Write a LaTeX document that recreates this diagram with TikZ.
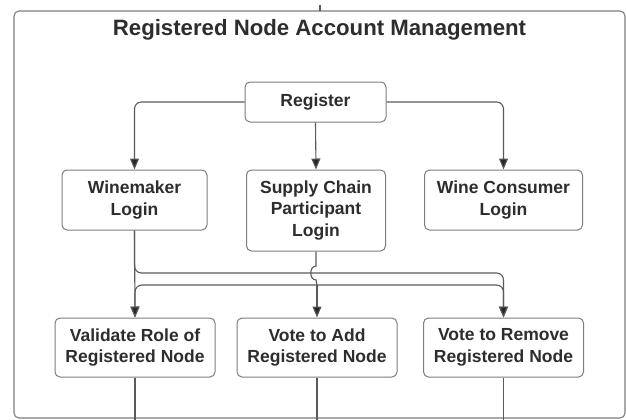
\documentclass[tikz,border=0pt]{standalone}
\usepackage{fontspec}
\setmainfont{Liberation Sans}
\definecolor{framegray}{RGB}{125, 125, 125}
\definecolor{linegray}{RGB}{90, 90, 90}
\definecolor{tipblack}{RGB}{40, 40, 40}
\definecolor{textgray}{RGB}{45, 45, 45}
\usepackage{tikz}
\usetikzlibrary{arrows.meta, positioning, calc}
\tikzset{
  stepbox/.style={draw=framegray, line width=1pt, rounded corners=5pt, fill=white, font=\bfseries\fontsize{17.5}{21.5}\selectfont, text=textgray, align=center, inner sep=0pt},
  flow/.style={draw=linegray, line width=1.1pt, rounded corners=7pt, -{Triangle[length=11pt, width=9pt, fill=tipblack]}},
  plain/.style={draw=linegray, line width=1.1pt},
}

\begin{document}
\begin{tikzpicture}[x=1pt, y=-1pt]
  \useasboundingbox (0,0) rectangle (626,420);

  % Frame and title
  \draw[framegray, line width=1.1pt, rounded corners=5pt] (14,11) rectangle (625,418);
  \coordinate (stub) at (320,5);
  \draw[plain] (stub) -- (320,11);
  \node[font=\bfseries\fontsize{22.2}{26}\selectfont, text=textgray] (title) at (319.5,30) {Registered Node Account Management};

  % Register
  \node[stepbox, minimum width=141pt, minimum height=40pt] (reg) at (315.5,102) {Register};

  % Logins
  \node[stepbox, minimum width=145pt, minimum height=60pt] (wm) at (134.5,200) {Winemaker\\Login};
  \node[stepbox, minimum width=139pt, minimum height=81pt] (sc) at (316,210.5) {Supply Chain\\Participant\\Login};
  \node[stepbox, minimum width=158pt, minimum height=60pt] (wc) at (503.5,200) {Wine Consumer\\Login};

  % Node actions
  \node[stepbox, minimum width=160pt, minimum height=59pt] (val) at (135,347.5) {Validate Role of\\Registered Node};
  \node[stepbox, minimum width=160pt, minimum height=59pt] (vadd) at (317,347.5) {Vote to Add\\Registered Node};
  \node[stepbox, minimum width=160pt, minimum height=59pt] (vrem) at (503.5,347.5) {Vote to Remove\\Registered Node};

  % Register to logins
  \draw[flow] (reg.west) -- (134.5,102) -- (wm.north);
  \draw[flow] (reg.east) -- (503.5,102) -- (wc.north);
  \draw[flow] (reg.south) -- (sc.north);

  % Winemaker to actions
  \draw[flow] (wm.south) -- (val.north);
  \draw[flow] (wm.south) -- (134.5,273) -- (503.5,273) -- (vrem.north);

  % Supply chain to actions, jumping over the winemaker line
  \coordinate (split) at (317,285);
  \draw[plain] (sc.south) -- (316,266) .. controls (309,266) and (309,280) .. (316,280) -- (split);
  \draw[flow] (split) -- (vadd.north);
  \draw[flow] (split) -- (135,285) -- (val.north);
  \draw[flow] (split) -- (503.5,285) -- (vrem.north);

  % Lines leaving the frame
  \coordinate (valout) at (135,421);
  \coordinate (vaddout) at (317,421);
  \coordinate (vremout) at (503.5,421);
  \draw[plain] (val.south) -- (valout);
  \draw[plain] (vadd.south) -- (vaddout);
  \draw[plain] (vrem.south) -- (vremout);
\end{tikzpicture}
\end{document}
